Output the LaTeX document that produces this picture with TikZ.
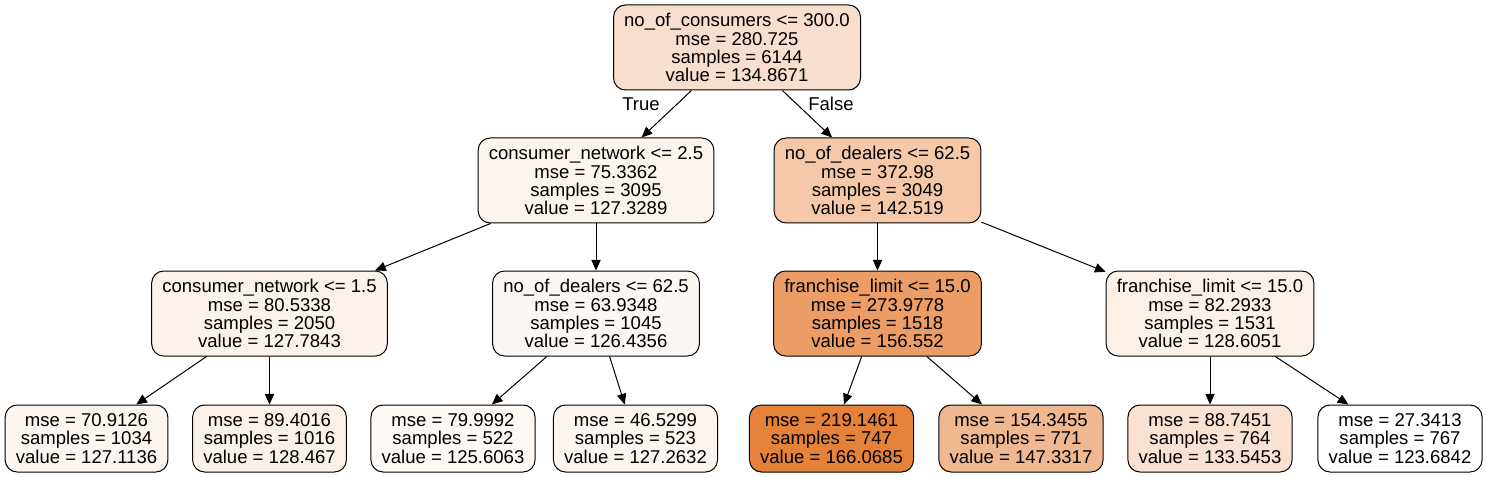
\documentclass[tikz,border=0pt]{standalone}
\usepackage{fontspec}
\setmainfont{Liberation Sans}
\usetikzlibrary{arrows.meta}
\definecolor{orng}{RGB}{229,129,57}
\tikzset{
  split/.style={draw, rounded corners=9pt, align=center, inner xsep=8pt,
    minimum height=63.75pt, line width=0.75pt,
    font=\fontsize{13.9pt}{13.6pt}\selectfont},
  leafbox/.style={split, minimum height=50.25pt},
  edgelabel/.style={font=\fontsize{13.9pt}{13.6pt}\selectfont},
}
\begin{document}
\begin{tikzpicture}[x=0.75pt,y=-0.75pt]
      \useasboundingbox (0,0) rectangle (1487,477);
      % depth 0 and 1
      \node[split, fill=orng!26!white] (root) at (737,47.5)
        {no\_of\_consumers <= 300.0\\mse = 280.725\\samples = 6144\\value = 134.8671};
      \node[split, fill=orng!9!white] (cn25) at (596,180.5)
        {consumer\_network <= 2.5\\mse = 75.3362\\samples = 3095\\value = 127.3289};
      \node[split, fill=orng!44!white] (nd1) at (877.5,180.5)
        {no\_of\_dealers <= 62.5\\mse = 372.98\\samples = 3049\\value = 142.519};
      % depth 2
      \node[split, fill=orng!10!white] (cn15) at (269.5,313.5)
        {consumer\_network <= 1.5\\mse = 80.5338\\samples = 2050\\value = 127.7843};
      \node[split, fill=orng!6!white] (nd2) at (596,313.5)
        {no\_of\_dealers <= 62.5\\mse = 63.9348\\samples = 1045\\value = 126.4356};
      \node[split, fill=orng!78!white] (fl1) at (877.5,313.5)
        {franchise\_limit <= 15.0\\mse = 273.9778\\samples = 1518\\value = 156.552};
      \node[split, fill=orng!12!white] (fl2) at (1210,313.5)
        {franchise\_limit <= 15.0\\mse = 82.2933\\samples = 1531\\value = 128.6051};
      % leaves
      \node[leafbox, fill=orng!8!white] (l1) at (86.5,438.5)
        {mse = 70.9126\\samples = 1034\\value = 127.1136};
      \node[leafbox, fill=orng!11!white] (l2) at (269.5,438.5)
        {mse = 89.4016\\samples = 1016\\value = 128.467};
      \node[leafbox, fill=orng!5!white] (l3) at (453,438.5)
        {mse = 79.9992\\samples = 522\\value = 125.6063};
      \node[leafbox, fill=orng!8!white] (l4) at (635.5,438.5)
        {mse = 46.5299\\samples = 523\\value = 127.2632};
      \node[leafbox, fill=orng] (l5) at (831.5,438.5)
        {mse = 219.1461\\samples = 747\\value = 166.0685};
      \node[leafbox, fill=orng!56!white] (l6) at (1021,438.5)
        {mse = 154.3455\\samples = 771\\value = 147.3317};
      \node[leafbox, fill=orng!23!white] (l7) at (1210,438.5)
        {mse = 88.7451\\samples = 764\\value = 133.5453};
      \node[leafbox, fill=white] (l8) at (1400,438.5)
        {mse = 27.3413\\samples = 767\\value = 123.6842};
      \node[edgelabel] (true) at (641,104) {True};
      \node[edgelabel] (false) at (831,104) {False};
      \begin{scope}[-{Triangle[length=8pt,width=7pt]}, line width=0.75pt]
        \draw (root) to (cn25);
        \draw (root) to (nd1);
        \draw (cn25) to (cn15);
        \draw (cn25) to (nd2);
        \draw (nd1) to (fl1);
        \draw (nd1) to (fl2);
        \draw (cn15) to (l1);
        \draw (cn15) to (l2);
        \draw (nd2) to (l3);
        \draw (nd2) to (l4);
        \draw (fl1) to (l5);
        \draw (fl1) to (l6);
        \draw (fl2) to (l7);
        \draw (fl2) to (l8);
      \end{scope}
    \end{tikzpicture}
\end{document}
